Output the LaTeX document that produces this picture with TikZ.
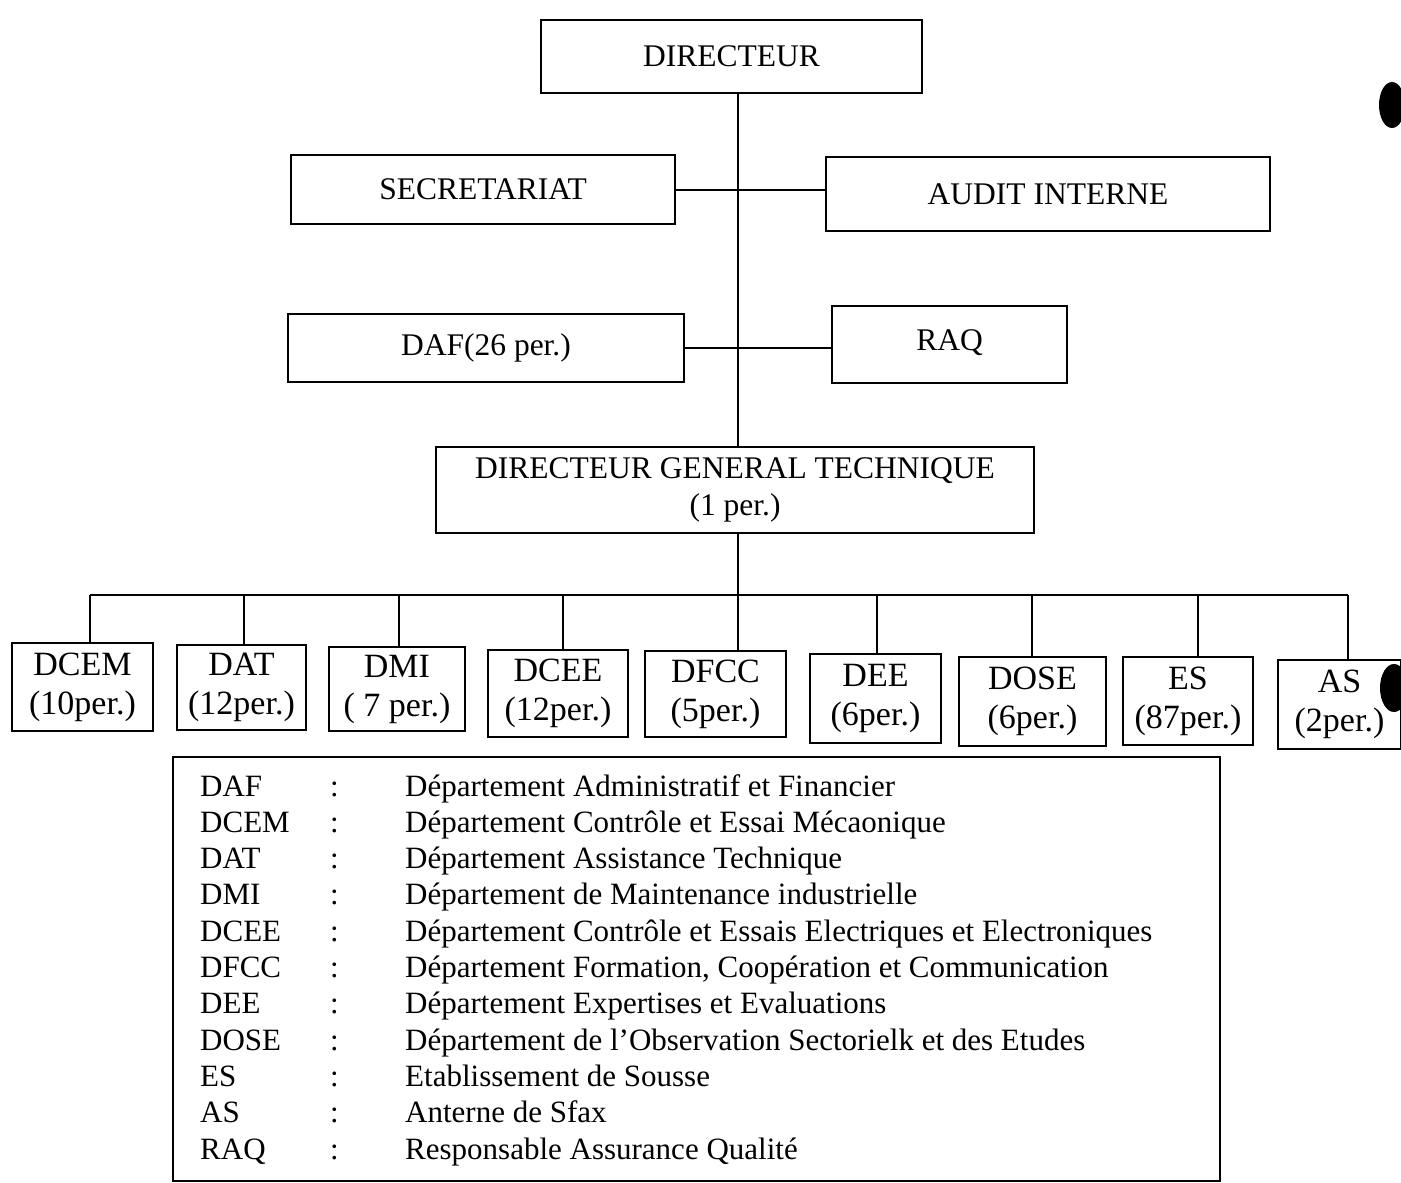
\documentclass[tikz,border=0pt]{standalone}
\usepackage{fontspec}
\setmainfont{Liberation Serif}
\begin{document}
\begin{tikzpicture}[x=1pt,y=-1pt,
  box/.style={draw,line width=2pt,inner sep=0pt,align=center},
  topfont/.style={font=\fontsize{31.5}{37}\selectfont},
  unitfont/.style={font=\fontsize{34}{39}\selectfont},
  legfont/.style={font=\fontsize{31}{36}\selectfont},
  link/.style={line width=2pt}]
\useasboundingbox (0,0) rectangle (1401,1183);

% upper hierarchy
\node[box,topfont,minimum width=381pt,minimum height=73pt] (dir) at (731.5,56.5) {DIRECTEUR};
\node[box,topfont,minimum width=384pt,minimum height=69pt] (sec) at (483,189.5) {SECRETARIAT};
\node[box,topfont,minimum width=444pt,minimum height=74pt] (aud) at (1048,194) {AUDIT INTERNE};
\node[box,topfont,minimum width=396pt,minimum height=68pt] (daf) at (486,348) {DAF(26 per.)};
\node[box,topfont,minimum width=235pt,minimum height=77pt] (raq) at (949.5,344.5) {\raisebox{9pt}{RAQ}};
\node[box,topfont,minimum width=598pt,minimum height=86pt] (dgt) at (735,490) {DIRECTEUR GENERAL TECHNIQUE\\(1 per.)};

% departments
\node[box,unitfont,minimum width=141pt,minimum height=88pt] (dcem) at (82.5,687) {DCEM\\(10per.)};
\node[box,unitfont,minimum width=129pt,minimum height=85pt] (dat) at (241.5,687.5) {DAT\\(12per.)};
\node[box,unitfont,minimum width=136pt,minimum height=84pt] (dmi) at (397,689) {DMI\\( 7 per.)};
\node[box,unitfont,minimum width=140pt,minimum height=87pt] (dcee) at (558,693.5) {DCEE\\(12per.)};
\node[box,unitfont,minimum width=141pt,minimum height=86pt] (dfcc) at (715.5,694) {DFCC\\(5per.)};
\node[box,unitfont,minimum width=131pt,minimum height=89pt] (dee) at (875.5,698.5) {DEE\\(6per.)};
\node[box,unitfont,minimum width=147pt,minimum height=89pt] (dose) at (1032.5,701.5) {DOSE\\(6per.)};
\node[box,unitfont,minimum width=130pt,minimum height=88pt] (es) at (1188,701) {ES\\(87per.)};
\node[box,unitfont,minimum width=123pt,minimum height=89pt] (as) at (1339.5,704.5) {AS\\(2per.)};

% connectors
\coordinate (bus) at (738,595);
\coordinate (busl) at (90,595);
\coordinate (busr) at (1348,595);
\draw[link] (dir.south -| bus) -- (dgt.north -| bus);
\draw[link] (dgt.south -| bus) -- (bus);
\draw[link] (sec.east) -- (sec.east -| aud.west);
\draw[link] (daf.east) -- (daf.east -| raq.west);
\draw[link] (busl) -- (busr);
\foreach \n/\x in {dcem/90,dat/244,dmi/399,dcee/563,dfcc/738,dee/877,dose/1032,es/1198,as/1348}
  \draw[link] (\x,595) -- (\n.north -| \x,0);

% legend
\node[box,minimum width=1047pt,minimum height=424pt] (legend) at (696.5,969) {};
\foreach \a/\d [count=\i from 0] in {
  DAF/{Département Administratif et Financier},
  DCEM/{Département Contrôle et Essai Mécaonique},
  DAT/{Département Assistance Technique},
  DMI/{Département de Maintenance industrielle},
  DCEE/{Département Contrôle et Essais Electriques et Electroniques},
  DFCC/{Département Formation, Coopération et Communication},
  DEE/{Département Expertises et Evaluations},
  DOSE/{Département de l’Observation Sectorielk et des Etudes},
  ES/{Etablissement de Sousse},
  AS/{Anterne de Sfax},
  RAQ/{Responsable Assurance Qualité}}{
  \node[legfont,anchor=base west,inner sep=0pt] (ab\i) at (200,796+36.3*\i) {\a};
  \node[legfont,anchor=base west,inner sep=0pt] (co\i) at (330,796+36.3*\i) {:};
  \node[legfont,anchor=base west,inner sep=0pt] (de\i) at (405,796+36.3*\i) {\d};
}

% dark spots at the right margin
\fill (1392,105) ellipse (13pt and 23pt);
\fill (1394,688) ellipse (14pt and 24pt);
\end{tikzpicture}
\end{document}
